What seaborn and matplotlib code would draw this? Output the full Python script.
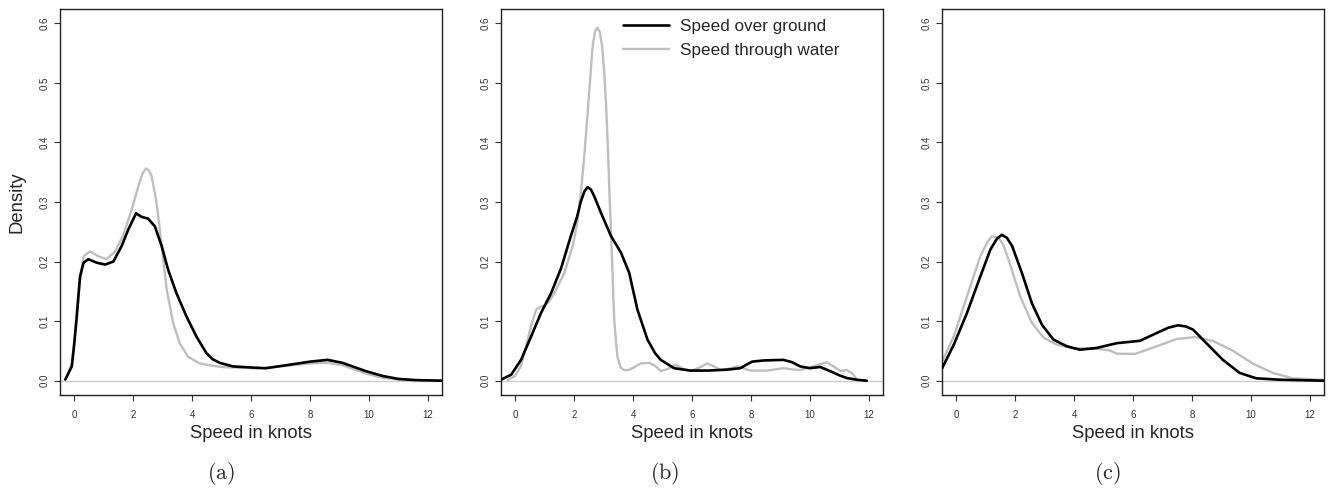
import matplotlib
matplotlib.use("Agg")
import matplotlib.pyplot as plt
import seaborn as sns

# Densidades (velocidad en nudos)
a_sog_x = [-0.30, -0.08, 0.00, 0.09, 0.20, 0.32, 0.48, 0.77, 1.05, 1.33, 1.61, 1.84, 2.10, 2.29, 2.51, 2.74, 2.97,
           3.19, 3.47, 3.81, 4.15, 4.49, 4.70, 4.94, 5.39, 6.07, 6.50, 7.20, 8.00, 8.60, 9.10, 9.90, 10.46, 11.00,
           11.60, 12.50]
a_sog_y = [0.002, 0.024, 0.060, 0.108, 0.175, 0.198, 0.204, 0.198, 0.195, 0.200, 0.226, 0.254, 0.281, 0.275, 0.272,
           0.259, 0.226, 0.186, 0.147, 0.108, 0.074, 0.046, 0.036, 0.030, 0.024, 0.022, 0.021, 0.026, 0.032, 0.035,
           0.030, 0.016, 0.008, 0.003, 0.001, 0.000]
a_stw_x = [-0.30, -0.08, 0.02, 0.15, 0.32, 0.54, 0.82, 1.10, 1.39, 1.67, 1.95, 2.18, 2.32, 2.44, 2.54, 2.63, 2.80,
           2.97, 3.14, 3.36, 3.58, 3.87, 4.26, 4.60, 5.00, 5.50, 6.00, 6.50, 7.20, 8.00, 8.60, 9.10, 9.90, 10.46,
           11.00, 11.60, 12.50]
a_stw_y = [0.002, 0.027, 0.075, 0.153, 0.209, 0.217, 0.209, 0.204, 0.217, 0.245, 0.287, 0.327, 0.348, 0.356, 0.353,
           0.343, 0.298, 0.226, 0.153, 0.097, 0.063, 0.040, 0.029, 0.026, 0.023, 0.022, 0.021, 0.021, 0.025, 0.029,
           0.030, 0.026, 0.012, 0.005, 0.002, 0.0005, 0.000]

b_sog_x = [-0.47, -0.135, 0.20, 0.54, 0.88, 1.22, 1.56, 1.89, 2.10, 2.23, 2.35, 2.46, 2.57, 2.68, 2.91, 3.25, 3.59,
           3.87, 4.15, 4.49, 4.75, 4.94, 5.39, 5.95, 6.52, 7.19, 7.64, 7.85, 8.04, 8.43, 9.10, 9.40, 9.67, 10.00,
           10.35, 10.69, 11.00, 11.25, 11.60, 11.93]
b_sog_y = [0.002, 0.010, 0.035, 0.074, 0.114, 0.147, 0.189, 0.243, 0.275, 0.301, 0.318, 0.325, 0.321, 0.310, 0.282,
           0.243, 0.215, 0.181, 0.119, 0.069, 0.046, 0.035, 0.021, 0.017, 0.017, 0.0185, 0.021, 0.027, 0.032, 0.034,
           0.035, 0.031, 0.024, 0.021, 0.023, 0.016, 0.009, 0.0045, 0.0015, 0.0]
b_stw_x = [-0.25, 0.0, 0.20, 0.37, 0.55, 0.71, 0.85, 0.99, 1.15, 1.33, 1.67, 1.95, 2.10, 2.23, 2.35, 2.46, 2.55,
           2.63, 2.71, 2.79, 2.87, 2.95, 3.02, 3.08, 3.14, 3.19, 3.24, 3.28, 3.36, 3.47, 3.58, 3.70, 3.85, 3.98,
           4.26, 4.55, 4.75, 4.94, 5.20, 5.44, 5.70, 5.95, 6.25, 6.52, 6.75, 6.97, 7.25, 7.53, 7.98, 8.55, 9.10,
           9.40, 9.67, 10.10, 10.57, 10.80, 11.03, 11.25, 11.45, 11.59]
b_stw_y = [0.001, 0.008, 0.025, 0.058, 0.094, 0.119, 0.124, 0.126, 0.133, 0.147, 0.181, 0.226, 0.262, 0.315, 0.380,
           0.450, 0.510, 0.562, 0.586, 0.593, 0.586, 0.562, 0.520, 0.467, 0.400, 0.327, 0.265, 0.215, 0.1025, 0.040,
           0.022, 0.018, 0.018, 0.021, 0.029, 0.030, 0.025, 0.016, 0.020, 0.027, 0.020, 0.016, 0.022, 0.029, 0.024,
           0.018, 0.020, 0.024, 0.017, 0.017, 0.021, 0.019, 0.018, 0.024, 0.031, 0.024, 0.016, 0.018, 0.012, 0.002]

c_sog_x = [-0.475, -0.08, 0.37, 0.82, 1.16, 1.38, 1.55, 1.72, 1.90, 2.23, 2.57, 2.91, 3.30, 3.76, 4.20, 4.77, 5.45,
           6.24, 6.80, 7.20, 7.53, 7.80, 8.04, 8.49, 9.05, 9.62, 10.18, 10.97, 12.50]
c_sog_y = [0.021, 0.0605, 0.114, 0.175, 0.220, 0.238, 0.245, 0.240, 0.226, 0.181, 0.130, 0.094, 0.069, 0.0577, 0.052,
           0.055, 0.063, 0.067, 0.080, 0.089, 0.093, 0.091, 0.0857, 0.063, 0.035, 0.013, 0.004, 0.0017, 0.0]
c_stw_x = [-0.475, -0.08, 0.37, 0.82, 1.05, 1.21, 1.44, 1.60, 1.78, 2.17, 2.57, 2.97, 3.42, 3.98, 4.55, 5.20, 5.45,
           6.07, 6.80, 7.48, 8.10, 8.72, 9.40, 10.07, 10.75, 11.43, 12.50]
c_stw_y = [0.0325, 0.0745, 0.142, 0.209, 0.232, 0.2425, 0.240, 0.228, 0.203, 0.142, 0.097, 0.072, 0.0605, 0.0545,
           0.0545, 0.051, 0.0454, 0.045, 0.0577, 0.070, 0.0733, 0.0666, 0.050, 0.0286, 0.013, 0.004, 0.0013]

panels = [
    ("(a)", a_sog_x, a_sog_y, a_stw_x, a_stw_y),
    ("(b)", b_sog_x, b_sog_y, b_stw_x, b_stw_y),
    ("(c)", c_sog_x, c_sog_y, c_stw_x, c_stw_y),
]
x_ticks = [0, 2, 4, 6, 8, 10, 12]
y_ticks = [0.0, 0.1, 0.2, 0.3, 0.4, 0.5, 0.6]
sog_label = "Speed over ground"
stw_label = "Speed through water"

sns.set_style("ticks")
plt.rcParams["font.family"] = ["Liberation Sans", "DejaVu Sans"]
plt.rcParams["mathtext.fontset"] = "cm"

W, H = 1329, 490
fig = plt.figure(figsize=(W / 100, H / 100), dpi=100)
lefts = [60, 501, 942]

for i, (tag, sx, sy, wx, wy) in enumerate(panels):
    ax = fig.add_axes([lefts[i] / W, (H - 395) / H, 382 / W, 386 / H])
    ax.axhline(0, color="#cccccc", lw=1.0, zorder=1)
    sns.lineplot(x=wx, y=wy, ax=ax, color="#bebebe", lw=1.7, label=stw_label, zorder=2,
                 solid_joinstyle="round")
    sns.lineplot(x=sx, y=sy, ax=ax, color="black", lw=1.9, label=sog_label, zorder=3,
                 solid_joinstyle="round")
    ax.set_xlim(-0.48, 12.48)
    ax.set_ylim(-0.024, 0.624)
    ax.set_xticks(x_ticks)
    ax.set_yticks(y_ticks)
    ax.set_yticklabels([f"{v:.1f}" for v in y_ticks])
    ax.tick_params(axis="both", labelsize=7, length=4.5, width=0.8, color="#333333", labelcolor="#333333")
    ax.tick_params(axis="x", pad=6)
    ax.tick_params(axis="y", labelrotation=90, pad=3)
    for lab in ax.get_yticklabels():
        lab.set_va("center")
    for sp in ax.spines.values():
        sp.set_visible(True)
        sp.set_linewidth(1.0)
        sp.set_color("#222222")
    ax.set_xlabel("Speed in knots", fontsize=13.3, labelpad=4)
    if i == 0:
        ax.set_ylabel("Density", fontsize=13.3, labelpad=10)
    else:
        ax.set_ylabel("")
    if i == 1:
        h, l = ax.get_legend_handles_labels()
        ax.legend(h[::-1], l[::-1], loc="upper left", bbox_to_anchor=(0.32, 0.975), frameon=False,
                  fontsize=12.3, handlelength=2.7, handletextpad=0.6, labelspacing=0.55,
                  borderpad=0, borderaxespad=0)
    else:
        ax.get_legend().remove()
    fig.text((2 * i + 1) / 6, 1 - 473 / H, r"$\mathrm{" + tag + "}$", ha="center", va="center", fontsize=16)

fig.savefig("out.png", dpi=100)
